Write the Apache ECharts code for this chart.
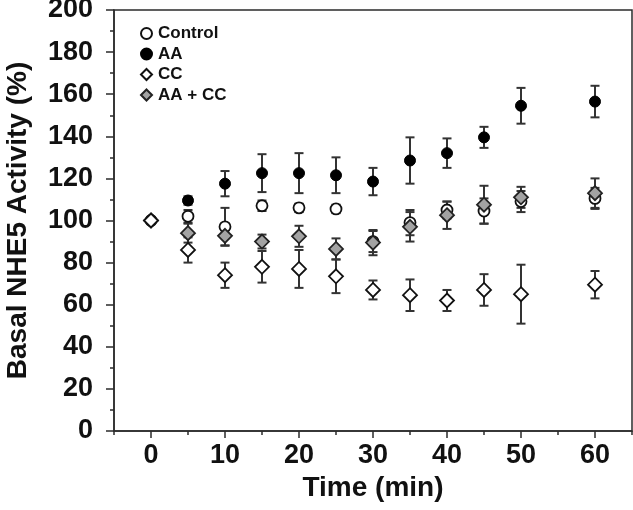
<!DOCTYPE html>
<html>
<head>
<meta charset="utf-8">
<script src="https://cdn.jsdelivr.net/npm/echarts@6/dist/echarts.min.js"></script>
<style>
  html, body { margin: 0; padding: 0; background: #fff; }
  #chart { width: 633px; height: 510px; }
</style>
</head>
<body>
<div id="chart"></div>
<script>
// ---- data ----
const time = [0, 5, 10, 15, 20, 25, 30, 35, 40, 45, 50, 60];

const control    = [100, 102, 97, 107, 106, 105.5, 90, 99, 105, 104.5, 109, 110.5];
const controlErr = [0, 3, 9, 2.5, 2, 2, 5, 6, 4, 6, 5, 5];

const aa    = [100, 109.5, 117.5, 122.5, 122.5, 121.5, 118.5, 128.5, 132, 139.5, 154.5, 156.5];
const aaErr = [0, 2, 6, 9, 9.5, 8.5, 6.5, 11, 7, 5, 8.5, 7.5];

const cc    = [100, 86, 74, 78, 77, 73.5, 67, 64.5, 62, 67, 65, 69.5];
const ccErr = [0, 6, 6, 7.5, 9, 8, 4.5, 7.5, 5, 7.5, 14, 6.5];

const aacc    = [100, 94, 92.7, 90, 92.5, 86.5, 89.5, 97, 102.5, 107.5, 111, 113];
const aaccErr = [0, 4.5, 4.5, 3.3, 5, 5, 6, 7, 6.5, 9, 5, 7];

const xTickLabels = [0, 10, 20, 30, 40, 50, 60];
const seriesNames = ['Control', 'AA', 'CC', 'AA + CC'];

// ---- helpers ----
const pts = (vals) => time.map((t, i) => [t, vals[i]]);
const errs = (vals, e) => time.map((t, i) => [t, vals[i] - e[i], vals[i] + e[i]]).filter((d, i) => e[i] > 0);

const INK = '#2b2b2b';
const FONT = '"Liberation Sans", Arial, Helvetica, sans-serif';

function errorBarSeries(data) {
  return {
    type: 'custom',
    xAxisIndex: 0,
    yAxisIndex: 0,
    z: 1,
    silent: true,
    data: data,
    renderItem: function (params, api) {
      const x = api.value(0);
      const lo = api.coord([x, api.value(1)]);
      const hi = api.coord([x, api.value(2)]);
      const hw = 4.5;
      const st = { stroke: '#333333', lineWidth: 2 };
      return {
        type: 'group',
        children: [
          { type: 'line', shape: { x1: lo[0], y1: lo[1], x2: hi[0], y2: hi[1] }, style: st },
          { type: 'line', shape: { x1: lo[0] - hw, y1: lo[1], x2: lo[0] + hw, y2: lo[1] }, style: st },
          { type: 'line', shape: { x1: hi[0] - hw, y1: hi[1], x2: hi[0] + hw, y2: hi[1] }, style: st }
        ]
      };
    }
  };
}

const chart = echarts.init(document.getElementById('chart'), null, { renderer: 'canvas' });

const option = {
  animation: false,
  backgroundColor: '#ffffff',
  textStyle: { fontFamily: FONT },
  grid: {
    left: 114, top: 10, right: 1, bottom: 79,
    containLabel: false,
    outerBoundsMode: 'none',
    show: true, borderColor: INK, borderWidth: 1.5, backgroundColor: 'transparent'
  },
  legend: {
    orient: 'vertical',
    left: 140,
    top: 25,
    padding: 0,
    itemGap: 3.5,
    itemWidth: 11,
    itemHeight: 11,
    data: seriesNames,
    textStyle: { fontFamily: FONT, fontWeight: 'bold', fontSize: 17, color: '#111', padding: [0, 0, 0, 1] }
  },
  xAxis: [
    {
      type: 'value',
      min: -5, max: 65, interval: 5,
      name: 'Time (min)',
      nameLocation: 'middle',
      nameGap: 36,
      nameTextStyle: { fontFamily: FONT, fontWeight: 'bold', fontSize: 28, color: '#111' },
      axisLine: { show: true, onZero: false, lineStyle: { color: INK, width: 1.5 } },
      axisTick: { show: true, inside: false, length: 7, customValues: xTickLabels, lineStyle: { color: INK, width: 1.5 } },
      axisLabel: { show: true, customValues: xTickLabels, margin: 11, fontFamily: FONT, fontWeight: 'bold', fontSize: 27, color: '#111' },
      splitLine: { show: false }
    },
    {
      type: 'value',
      min: -5, max: 65, interval: 5,
      position: 'bottom',
      axisLine: { show: false, onZero: false },
      axisTick: { show: true, inside: false, length: 4, lineStyle: { color: INK, width: 1.5 } },
      axisLabel: { show: false },
      splitLine: { show: false }
    }
  ],
  yAxis: {
    type: 'value',
    min: 0, max: 200, interval: 20,
    name: 'Basal NHE5 Activity (%)',
    nameLocation: 'middle',
    nameRotate: 90,
    nameGap: 82,
    nameTextStyle: { fontFamily: FONT, fontWeight: 'bold', fontSize: 28, color: '#111' },
    axisLine: { show: true, onZero: false, lineStyle: { color: INK, width: 1.5 } },
    axisTick: { show: true, inside: false, length: 8, lineStyle: { color: INK, width: 1.5 } },
    minorTick: { show: true, splitNumber: 2, length: 4, lineStyle: { color: INK, width: 1.5 } },
    axisLabel: { margin: 21, fontFamily: FONT, fontWeight: 'bold', fontSize: 27, color: '#111' },
    splitLine: { show: false },
    minorSplitLine: { show: false }
  },
  series: [
    errorBarSeries(errs(control, controlErr)),
    errorBarSeries(errs(aa, aaErr)),
    errorBarSeries(errs(cc, ccErr)),
    errorBarSeries(errs(aacc, aaccErr)),
    {
      name: 'Control', type: 'scatter', z: 2,
      symbol: 'circle', symbolSize: 11,
      itemStyle: { color: '#ffffff', borderColor: '#111', borderWidth: 1.8, opacity: 1 },
      data: pts(control)
    },
    {
      name: 'AA', type: 'scatter', z: 3,
      symbol: 'circle', symbolSize: 11,
      itemStyle: { color: '#000000', borderColor: '#000', borderWidth: 1, opacity: 1 },
      data: pts(aa)
    },
    {
      name: 'AA + CC', type: 'scatter', z: 4,
      symbol: 'diamond', symbolSize: 14,
      itemStyle: { color: '#a3a3a3', borderColor: '#222', borderWidth: 1.8, opacity: 1 },
      data: pts(aacc)
    },
    {
      name: 'CC', type: 'scatter', z: 5,
      symbol: 'diamond', symbolSize: 14,
      itemStyle: { color: '#ffffff', borderColor: '#111', borderWidth: 1.8, opacity: 1 },
      data: pts(cc)
    }
  ]
};

chart.setOption(option);
</script>
</body>
</html>
